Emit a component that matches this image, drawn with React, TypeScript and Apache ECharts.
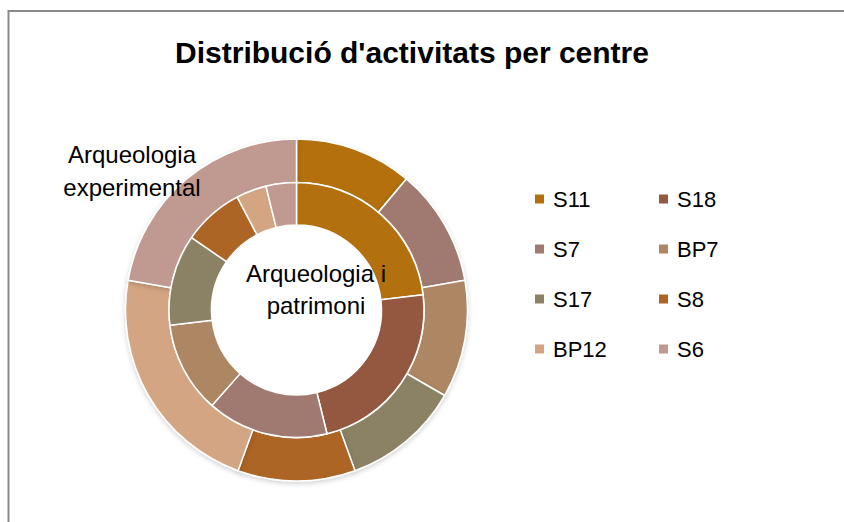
import React, { useEffect, useRef } from "react";
import * as echarts from "echarts";

const centres = ["S11", "S18", "S7", "BP7", "S17", "S8", "BP12", "S6"];
const colours = ["#B3700F", "#94573F", "#A07A70", "#AD8663", "#8B8165", "#AD6525", "#D4A582", "#C09990"];
const experimental = [1, 0, 1, 1, 1, 1, 2, 2];
const patrimoni = [6, 6, 4, 3, 3, 2, 1, 1];
const legendColumn1 = ["S11", "S7", "S17", "BP12"];
const legendColumn2 = ["S18", "BP7", "S8", "S6"];
const titleText = "Distribució d'activitats per centre";
const outerName = "Arqueologia experimental";
const innerName = "Arqueologia i patrimoni";

const FONT = "'Liberation Sans', Arial, sans-serif";

export default function App() {
  const ref = useRef<HTMLDivElement>(null);
  useEffect(() => {
    if (!ref.current) return;
    const chart = echarts.init(ref.current, null, { renderer: "svg" });
    const mk = (vals: number[]) =>
      centres.map((n, i) => ({ name: n, value: vals[i], itemStyle: { color: colours[i] } }));
    const legendBase = {
      orient: "vertical" as const,
      icon: "rect",
      itemWidth: 11,
      itemHeight: 11,
      itemGap: 26,
      selectedMode: false,
      textStyle: { fontSize: 22, fontFamily: FONT, color: "#000", lineHeight: 24, padding: [0, 0, 0, 3] },
    };
    chart.setOption({
      animation: false,
      backgroundColor: "#fff",
      color: colours,
      title: {
        text: titleText,
        left: 412,
        top: 37,
        padding: 0,
        textAlign: "center",
        textStyle: { fontSize: 30, fontWeight: "bold", fontFamily: FONT, color: "#000" },
      },
      legend: [
        { ...legendBase, left: 528, top: 182, data: legendColumn1 },
        { ...legendBase, left: 652, top: 182, data: legendColumn2 },
      ],
      series: [
        {
          type: "pie",
          name: outerName,
          center: [296.5, 310],
          radius: [127.5, 171],
          startAngle: 90,
          clockwise: true,
          silent: true,
          label: { show: false },
          labelLine: { show: false },
          itemStyle: {
            borderColor: "#fff",
            borderWidth: 1.5,
            shadowColor: "rgba(0,0,0,0.18)",
            shadowBlur: 5,
            shadowOffsetY: 2,
          },
          data: mk(experimental),
        },
        {
          type: "pie",
          name: innerName,
          center: [296.5, 310],
          radius: [85, 127.5],
          startAngle: 90,
          clockwise: true,
          silent: true,
          label: { show: false },
          labelLine: { show: false },
          itemStyle: { borderColor: "#fff", borderWidth: 1.5 },
          data: mk(patrimoni),
        },
      ],
      graphic: [
        {
          type: "rect",
          silent: true,
          z: -10,
          shape: { x: 8.5, y: 11, width: 900, height: 600 },
          style: { fill: "none", stroke: "#8a8a8a", lineWidth: 2 },
        },
        {
          type: "text",
          x: 132,
          y: 154,
          z: 100,
          style: { text: "Arqueologia", fontSize: 24, fontFamily: FONT, fill: "#000", align: "center", verticalAlign: "middle" },
        },
        {
          type: "text",
          x: 132,
          y: 187,
          z: 100,
          style: { text: "experimental", fontSize: 24, fontFamily: FONT, fill: "#000", align: "center", verticalAlign: "middle" },
        },
        {
          type: "text",
          x: 316,
          y: 273,
          z: 100,
          style: { text: "Arqueologia i", fontSize: 24, fontFamily: FONT, fill: "#000", align: "center", verticalAlign: "middle" },
        },
        {
          type: "text",
          x: 316,
          y: 305,
          z: 100,
          style: { text: "patrimoni", fontSize: 24, fontFamily: FONT, fill: "#000", align: "center", verticalAlign: "middle" },
        },
      ],
    });
    return () => chart.dispose();
  }, []);
  return (
    <div
      ref={ref}
      style={{ position: "absolute", left: 0, top: 0, width: 844, height: 522, background: "#fff" }}
    />
  );
}
